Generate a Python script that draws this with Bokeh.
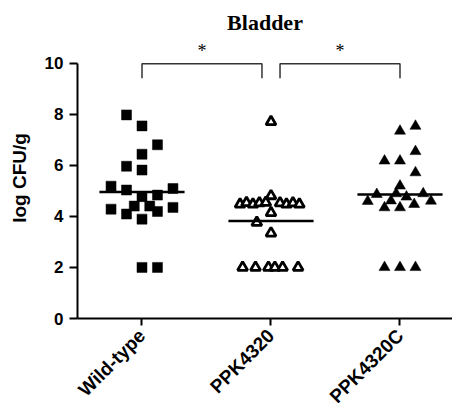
import numpy as np
from bokeh.plotting import figure
from bokeh.models import Range1d, FixedTicker
from bokeh.core.properties import value
from bokeh.embed import file_html
from bokeh.resources import INLINE

# ---- data ----
groups = ["Wild-type", "PPK4320", "PPK4320C"]

wt_values = [7.97, 7.54, 6.80, 6.43, 5.96, 5.81, 5.18, 5.03, 5.09, 4.77,
             4.83, 4.40, 4.40, 4.28, 4.35, 4.09, 4.19, 3.89, 2.0, 2.0]
wt_jitter = [-0.12, 0.0, 0.12, 0.0, -0.12, 0.0, -0.24, -0.12, 0.24, 0.0,
             0.12, -0.06, 0.06, -0.24, 0.24, -0.12, 0.12, 0.0, 0.0, 0.12]

ko_values = [7.70, 4.47, 4.53, 4.47, 4.52, 4.80, 4.54, 4.52, 4.47, 4.52,
             4.47, 4.14, 3.76, 3.34, 2.0, 2.0, 2.0, 2.0, 2.0, 2.0]
ko_jitter = [0.0, -0.24, -0.19, -0.14, -0.09, 0.0, -0.04, 0.07, 0.12, 0.17,
             0.22, 0.0, -0.11, 0.0, -0.22, -0.12, -0.02, 0.03, 0.09, 0.21]

c_values = [7.34, 7.53, 6.54, 6.17, 6.17, 5.71, 5.19, 4.86, 4.89, 4.76,
            4.89, 4.59, 4.61, 4.47, 4.60, 4.34, 4.34, 2.0, 2.0, 2.0]
c_jitter = [0.0, 0.12, 0.12, -0.12, 0.0, 0.12, 0.0, -0.18, -0.03, 0.05,
            0.18, -0.25, -0.07, 0.11, 0.24, -0.12, 0.0, -0.12, 0.0, 0.12]

comparisons = [(1, 2), (2, 3)]
comparison_labels = ["*", "*"]
y_ticks = [0, 2, 4, 6, 8, 10]

# ---- figure ----
p = figure(frame_width=375, frame_height=281, output_backend="svg",
           toolbar_location=None, x_range=Range1d(0.5, 3.407),
           y_range=Range1d(0, 11), title="Bladder")
p.margin = (4, 0, 0, 0)
p.min_border_left = 77
p.min_border_right = 0
p.min_border_top = 26
p.min_border_bottom = 10
p.outline_line_color = None
p.xgrid.visible = False
p.ygrid.visible = False
p.background_fill_color = "white"
p.border_fill_color = "white"

p.title.text_font = "Liberation Serif"
p.title.text_font_style = "bold"
p.title.text_font_size = "22px"
p.title.align = "center"
p.title.text_color = "black"
p.title.standoff = 6

# y axis
ya = p.yaxis[0]
ya.ticker = FixedTicker(ticks=y_ticks)
ya.bounds = (0, 10)
ya.axis_line_width = 2
ya.axis_line_color = "black"
ya.major_tick_line_width = 2
ya.major_tick_line_color = "black"
ya.major_tick_out = 8
ya.major_tick_in = 0
ya.minor_tick_line_color = None
ya.major_label_text_font = "Liberation Sans"
ya.major_label_text_font_style = "bold"
ya.major_label_text_font_size = "17px"
ya.major_label_text_color = "black"
ya.major_label_standoff = 6
ya.axis_label = "log CFU/g"
ya.axis_label_text_font = "Liberation Sans"
ya.axis_label_text_font_style = "bold"
ya.axis_label_text_font_size = "19px"
ya.axis_label_text_color = "black"
ya.axis_label_standoff = 12

# x axis
xa = p.xaxis[0]
xa.ticker = FixedTicker(ticks=[1, 2, 3])
xa.major_label_overrides = {i + 1: g for i, g in enumerate(groups)}
xa.axis_line_width = 2
xa.axis_line_color = "black"
xa.major_tick_line_width = 2
xa.major_tick_line_color = "black"
xa.major_tick_out = 7
xa.major_tick_in = 0
xa.minor_tick_line_color = None
xa.major_label_text_font = "Liberation Sans"
xa.major_label_text_font_style = "bold"
xa.major_label_text_font_size = "19px"
xa.major_label_text_color = "black"
xa.major_label_orientation = np.pi / 4
xa.major_label_standoff = 7

# points
wt_x = [1 + j for j in wt_jitter]
ko_x = [2 + j for j in ko_jitter]
c_x = [3 + j for j in c_jitter]
p.scatter(wt_x, wt_values, marker="square", size=10, fill_color="black",
          line_color="black", line_width=0.5)
p.scatter(ko_x, ko_values, marker="triangle", size=10, fill_color="white",
          line_color="black", line_width=2.8)
p.scatter(c_x, c_values, marker="triangle", size=11, fill_color="black",
          line_color="black", line_width=0.5)

# mean lines
means = [np.mean(wt_values), np.mean(ko_values), np.mean(c_values)]
half = 0.33
p.segment(x0=[i + 1 - half for i in range(3)], y0=means,
          x1=[i + 1 + half for i in range(3)], y1=means,
          line_color="black", line_width=2.5)

# significance brackets
inset = 0.07
top = 9.97
leg = 9.4
xs, ys, tx, ty = [], [], [], []
for a, b in comparisons:
    x0 = a + (inset if a != 1 and a == comparisons[-1][0] else 0.0)
    x1 = b - (inset if b != 3 else 0.0)
    xs.append([x0, x0, x1, x1])
    ys.append([leg, top, top, leg])
    tx.append((x0 + x1) / 2)
    ty.append(top + 0.5)
p.multi_line(xs, ys, line_color="#333333", line_width=1.5)
p.text(tx, ty, text=comparison_labels, text_align="center",
       text_baseline="middle", text_font=value("Liberation Serif"),
       text_font_size="18px", text_color="black")

open("out.html", "w").write(file_html(p, INLINE))
